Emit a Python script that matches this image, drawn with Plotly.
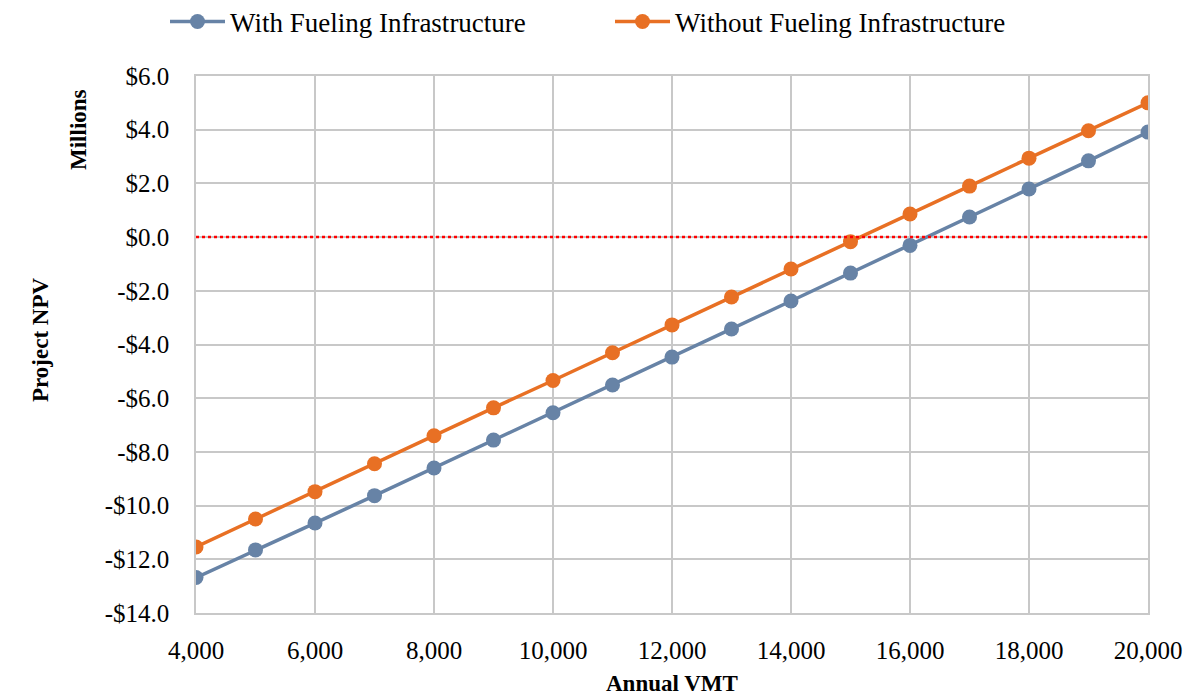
import plotly.graph_objects as go

vmt = [4000, 5000, 6000, 7000, 8000, 9000, 10000, 11000, 12000, 13000,
       14000, 15000, 16000, 17000, 18000, 19000, 20000]
with_infra = [-12.68, -11.65, -10.65, -9.63, -8.60, -7.56, -6.54, -5.51, -4.47,
              -3.42, -2.38, -1.34, -0.31, 0.75, 1.79, 2.84, 3.91]
without_infra = [-11.54, -10.50, -9.48, -8.44, -7.40, -6.36, -5.34, -4.31, -3.27,
                 -2.23, -1.19, -0.17, 0.86, 1.90, 2.94, 3.96, 5.00]
y_ticks = [6, 4, 2, 0, -2, -4, -6, -8, -10, -12, -14]
x_ticks = [4000, 6000, 8000, 10000, 12000, 14000, 16000, 18000, 20000]

def money(v):
    return ("-$" if v < 0 else "$") + f"{abs(v):.1f}"

FONT = "Liberation Serif"
BLUE = "#6783A6"
ORANGE = "#E87024"

fig = go.Figure()
fig.add_trace(go.Scatter(x=vmt, y=with_infra, mode="lines+markers",
                         name="With Fueling Infrastructure",
                         line=dict(color=BLUE, width=3.5),
                         marker=dict(color=BLUE, size=15)))
fig.add_trace(go.Scatter(x=vmt, y=without_infra, mode="lines+markers",
                         name="Without Fueling Infrastructure",
                         line=dict(color=ORANGE, width=3.5),
                         marker=dict(color=ORANGE, size=15)))

fig.add_shape(type="line", xref="x", yref="y", x0=4000, x1=20000, y0=0, y1=0,
              line=dict(color="#FF0000", width=2.5, dash="dot"), layer="above")

L, R, T, B = 196, 39, 76, 83
PW = 1187 - L - R
PH = 696 - T - B

fig.add_annotation(text="<b>Millions</b>", xref="paper", yref="paper",
                   x=(78 - L) / PW, y=(696 - B - 130) / PH, textangle=-90,
                   showarrow=False, xanchor="center", yanchor="middle",
                   font=dict(family=FONT, size=23, color="black"))
fig.add_annotation(text="<b>Project NPV</b>", xref="paper", yref="paper",
                   x=(40 - L) / PW, y=(696 - B - 340) / PH, textangle=-90,
                   showarrow=False, xanchor="center", yanchor="middle",
                   font=dict(family=FONT, size=23, color="black"))
fig.add_annotation(text="<b>Annual VMT</b>", xref="paper", yref="paper",
                   x=(672 - L) / PW, y=(696 - B - 683) / PH,
                   showarrow=False, xanchor="center", yanchor="middle",
                   font=dict(family=FONT, size=23, color="black"))

fig.update_layout(
    width=1187, height=696,
    margin=dict(l=L, r=R, t=T, b=B, autoexpand=False),
    paper_bgcolor="white", plot_bgcolor="white",
    font=dict(family=FONT, size=25, color="black"),
    showlegend=True,
    legend=dict(orientation="h", xref="container", x=165 / 1187, xanchor="left",
                yref="container", y=1 - 22 / 696, yanchor="middle",
                font=dict(family=FONT, size=27, color="black"), itemwidth=55,
                entrywidth=375, entrywidthmode="pixels",
                traceorder="normal"),
    xaxis=dict(range=[4000, 20000], tickvals=x_ticks,
               ticktext=[f"{v:,}" for v in x_ticks],
               tickfont=dict(family=FONT, size=25),
               showgrid=True, gridcolor="#C8C8C8", gridwidth=1.5,
               showline=True, linecolor="#C8C8C8", linewidth=1.5, mirror=True,
               zeroline=False, ticks="outside", ticklen=14, tickcolor="white"),
    yaxis=dict(range=[-14, 6], tickvals=y_ticks,
               ticktext=[money(v) for v in y_ticks],
               tickfont=dict(family=FONT, size=25),
               showgrid=True, gridcolor="#C8C8C8", gridwidth=1.5,
               showline=True, linecolor="#C8C8C8", linewidth=1.5, mirror=True,
               zeroline=False, ticks="outside", ticklen=20, tickcolor="white"),
)

fig.write_html("out.html", config={"displayModeBar": False},
               post_script="document.body.style.margin='0';document.body.style.padding='0';")
